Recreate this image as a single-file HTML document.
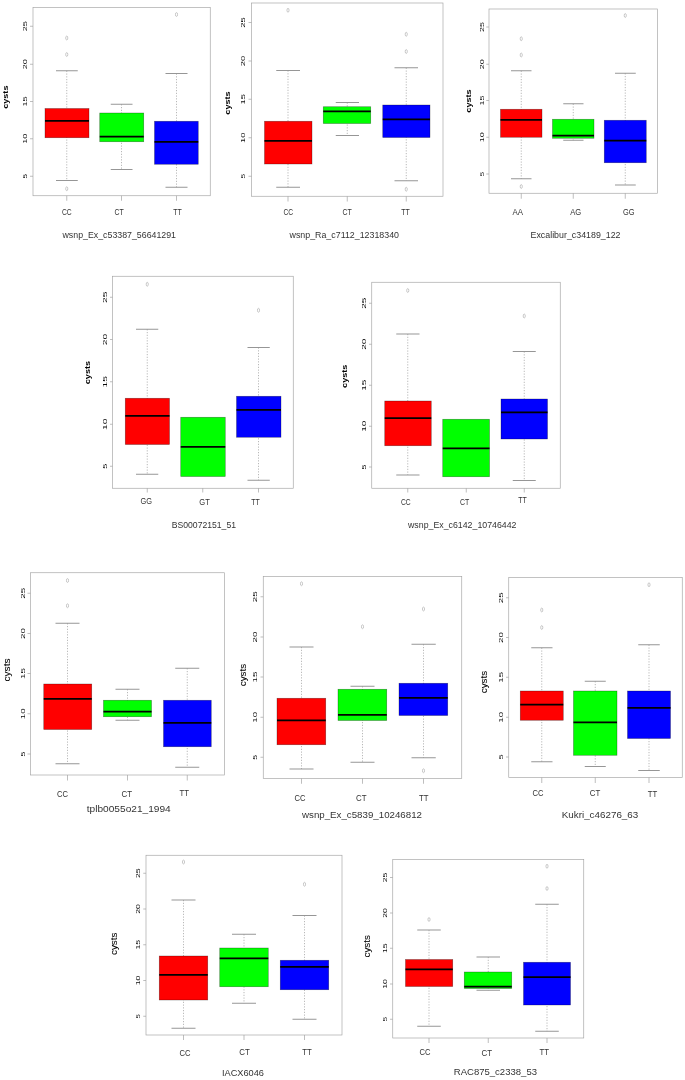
<!DOCTYPE html>
<html lang="en">
<head>
<meta charset="utf-8">
<title>Box plots of cysts by SNP genotype</title>
<style>
html,body{margin:0;padding:0;background:#fff;}
body{width:685px;height:1080px;overflow:hidden;}
svg{display:block;}
text{font-family:"Liberation Sans","DejaVu Sans",sans-serif;fill:#1a1a1a;}
.tk{font-size:4.8px;fill:#0a0a0a;}
.yl{fill:#000;font-weight:bold;}
.yl2{fill:#000;stroke:#000;stroke-width:0.08px;}
.lb{fill:#333;}
.tt{fill:#333;}
</style>
</head>
<body>
<svg width="685" height="1080" viewBox="0 0 685 1080">
<rect width="685" height="1080" fill="#fff"/>
<g>
<rect x="33" y="7.5" width="177.25" height="188.25" fill="none" stroke="#a2a2a2" stroke-width="0.65"/>
<line x1="30" y1="26.25" x2="33" y2="26.25" stroke="#a2a2a2" stroke-width="0.7"/>
<line x1="30" y1="64.25" x2="33" y2="64.25" stroke="#a2a2a2" stroke-width="0.7"/>
<line x1="30" y1="101.5" x2="33" y2="101.5" stroke="#a2a2a2" stroke-width="0.7"/>
<line x1="30" y1="138.75" x2="33" y2="138.75" stroke="#a2a2a2" stroke-width="0.7"/>
<line x1="30" y1="176.25" x2="33" y2="176.25" stroke="#a2a2a2" stroke-width="0.7"/>
<line x1="66.75" y1="70.75" x2="66.75" y2="180.5" stroke="#a6a6a6" stroke-width="0.8" stroke-dasharray="1.2 1.55"/>
<line x1="56" y1="70.75" x2="77.75" y2="70.75" stroke="#909090" stroke-width="0.95"/>
<line x1="56" y1="180.5" x2="77.75" y2="180.5" stroke="#909090" stroke-width="0.95"/>
<rect x="45" y="108.5" width="44" height="29.25" fill="#ff0000" stroke="#000" stroke-opacity="0.45" stroke-width="0.6"/>
<line x1="45" y1="120.75" x2="89" y2="120.75" stroke="#000" stroke-width="1.75"/>
<ellipse cx="66.75" cy="38" rx="1.05" ry="1.95" fill="none" stroke="#949494" stroke-width="0.5"/>
<ellipse cx="66.75" cy="54.5" rx="1.05" ry="1.95" fill="none" stroke="#949494" stroke-width="0.5"/>
<ellipse cx="66.75" cy="188.75" rx="1.05" ry="1.95" fill="none" stroke="#949494" stroke-width="0.5"/>
<line x1="66.75" y1="195.75" x2="66.75" y2="200.75" stroke="#a2a2a2" stroke-width="0.7"/>
<line x1="121.5" y1="104.25" x2="121.5" y2="169.5" stroke="#a6a6a6" stroke-width="0.8" stroke-dasharray="1.2 1.55"/>
<line x1="110.75" y1="104.25" x2="132.5" y2="104.25" stroke="#909090" stroke-width="0.95"/>
<line x1="110.75" y1="169.5" x2="132.5" y2="169.5" stroke="#909090" stroke-width="0.95"/>
<rect x="99.75" y="113" width="44" height="28.75" fill="#00ff00" stroke="#000" stroke-opacity="0.45" stroke-width="0.6"/>
<line x1="99.75" y1="136.5" x2="143.75" y2="136.5" stroke="#000" stroke-width="1.75"/>
<line x1="121.5" y1="195.75" x2="121.5" y2="200.75" stroke="#a2a2a2" stroke-width="0.7"/>
<line x1="176.5" y1="73.5" x2="176.5" y2="187.25" stroke="#a6a6a6" stroke-width="0.8" stroke-dasharray="1.2 1.55"/>
<line x1="165.5" y1="73.5" x2="187.5" y2="73.5" stroke="#909090" stroke-width="0.95"/>
<line x1="165.5" y1="187.25" x2="187.5" y2="187.25" stroke="#909090" stroke-width="0.95"/>
<rect x="154.5" y="121.25" width="43.75" height="43" fill="#0000ff" stroke="#000" stroke-opacity="0.45" stroke-width="0.6"/>
<line x1="154.5" y1="141.75" x2="198.25" y2="141.75" stroke="#000" stroke-width="1.75"/>
<ellipse cx="176.5" cy="14.5" rx="1.05" ry="1.95" fill="none" stroke="#949494" stroke-width="0.5"/>
<line x1="176.5" y1="195.75" x2="176.5" y2="200.75" stroke="#a2a2a2" stroke-width="0.7"/>
</g>
<g>
<rect x="251.5" y="3" width="191.5" height="193.25" fill="none" stroke="#a2a2a2" stroke-width="0.65"/>
<line x1="248.5" y1="22.5" x2="251.5" y2="22.5" stroke="#a2a2a2" stroke-width="0.7"/>
<line x1="248.5" y1="61" x2="251.5" y2="61" stroke="#a2a2a2" stroke-width="0.7"/>
<line x1="248.5" y1="99.25" x2="251.5" y2="99.25" stroke="#a2a2a2" stroke-width="0.7"/>
<line x1="248.5" y1="137.75" x2="251.5" y2="137.75" stroke="#a2a2a2" stroke-width="0.7"/>
<line x1="248.5" y1="176.25" x2="251.5" y2="176.25" stroke="#a2a2a2" stroke-width="0.7"/>
<line x1="288" y1="70.5" x2="288" y2="187.25" stroke="#a6a6a6" stroke-width="0.8" stroke-dasharray="1.2 1.55"/>
<line x1="276.25" y1="70.5" x2="300" y2="70.5" stroke="#909090" stroke-width="0.95"/>
<line x1="276.25" y1="187.25" x2="300" y2="187.25" stroke="#909090" stroke-width="0.95"/>
<rect x="264.5" y="121.25" width="47.5" height="42.75" fill="#ff0000" stroke="#000" stroke-opacity="0.45" stroke-width="0.6"/>
<line x1="264.5" y1="140.75" x2="312" y2="140.75" stroke="#000" stroke-width="1.75"/>
<ellipse cx="288" cy="10.25" rx="1.05" ry="1.95" fill="none" stroke="#949494" stroke-width="0.5"/>
<line x1="288" y1="196.25" x2="288" y2="201.5" stroke="#a2a2a2" stroke-width="0.7"/>
<line x1="347.25" y1="102.5" x2="347.25" y2="135.5" stroke="#a6a6a6" stroke-width="0.8" stroke-dasharray="1.2 1.55"/>
<line x1="335.75" y1="102.5" x2="359" y2="102.5" stroke="#909090" stroke-width="0.95"/>
<line x1="335.75" y1="135.5" x2="359" y2="135.5" stroke="#909090" stroke-width="0.95"/>
<rect x="323.25" y="106.75" width="47.5" height="16.75" fill="#00ff00" stroke="#000" stroke-opacity="0.45" stroke-width="0.6"/>
<line x1="323.25" y1="111.25" x2="370.75" y2="111.25" stroke="#000" stroke-width="1.75"/>
<line x1="347.25" y1="196.25" x2="347.25" y2="201.5" stroke="#a2a2a2" stroke-width="0.7"/>
<line x1="406.25" y1="67.75" x2="406.25" y2="180.75" stroke="#a6a6a6" stroke-width="0.8" stroke-dasharray="1.2 1.55"/>
<line x1="394.5" y1="67.75" x2="418" y2="67.75" stroke="#909090" stroke-width="0.95"/>
<line x1="394.5" y1="180.75" x2="418" y2="180.75" stroke="#909090" stroke-width="0.95"/>
<rect x="382.75" y="105" width="47.25" height="32.5" fill="#0000ff" stroke="#000" stroke-opacity="0.45" stroke-width="0.6"/>
<line x1="382.75" y1="119.25" x2="430" y2="119.25" stroke="#000" stroke-width="1.75"/>
<ellipse cx="406.25" cy="34.25" rx="1.05" ry="1.95" fill="none" stroke="#949494" stroke-width="0.5"/>
<ellipse cx="406.25" cy="51.5" rx="1.05" ry="1.95" fill="none" stroke="#949494" stroke-width="0.5"/>
<ellipse cx="406.25" cy="189.25" rx="1.05" ry="1.95" fill="none" stroke="#949494" stroke-width="0.5"/>
<line x1="406.25" y1="196.25" x2="406.25" y2="201.5" stroke="#a2a2a2" stroke-width="0.7"/>
</g>
<g>
<rect x="489" y="9" width="168.5" height="184.25" fill="none" stroke="#a2a2a2" stroke-width="0.65"/>
<line x1="486.25" y1="27" x2="489" y2="27" stroke="#a2a2a2" stroke-width="0.7"/>
<line x1="486.25" y1="64.25" x2="489" y2="64.25" stroke="#a2a2a2" stroke-width="0.7"/>
<line x1="486.25" y1="100.5" x2="489" y2="100.5" stroke="#a2a2a2" stroke-width="0.7"/>
<line x1="486.25" y1="137.25" x2="489" y2="137.25" stroke="#a2a2a2" stroke-width="0.7"/>
<line x1="486.25" y1="174" x2="489" y2="174" stroke="#a2a2a2" stroke-width="0.7"/>
<line x1="521.25" y1="70.75" x2="521.25" y2="178.75" stroke="#a6a6a6" stroke-width="0.8" stroke-dasharray="1.2 1.55"/>
<line x1="511" y1="70.75" x2="531.5" y2="70.75" stroke="#909090" stroke-width="0.95"/>
<line x1="511" y1="178.75" x2="531.5" y2="178.75" stroke="#909090" stroke-width="0.95"/>
<rect x="500.5" y="109.25" width="41.5" height="28" fill="#ff0000" stroke="#000" stroke-opacity="0.45" stroke-width="0.6"/>
<line x1="500.5" y1="119.75" x2="542" y2="119.75" stroke="#000" stroke-width="1.75"/>
<ellipse cx="521.25" cy="38.75" rx="1.05" ry="1.95" fill="none" stroke="#949494" stroke-width="0.5"/>
<ellipse cx="521.25" cy="55" rx="1.05" ry="1.95" fill="none" stroke="#949494" stroke-width="0.5"/>
<ellipse cx="521.25" cy="186.5" rx="1.05" ry="1.95" fill="none" stroke="#949494" stroke-width="0.5"/>
<line x1="521.25" y1="193.25" x2="521.25" y2="198.75" stroke="#a2a2a2" stroke-width="0.7"/>
<line x1="573.25" y1="103.75" x2="573.25" y2="140.25" stroke="#a6a6a6" stroke-width="0.8" stroke-dasharray="1.2 1.55"/>
<line x1="563.25" y1="103.75" x2="583.5" y2="103.75" stroke="#909090" stroke-width="0.95"/>
<line x1="563.25" y1="140.25" x2="583.5" y2="140.25" stroke="#909090" stroke-width="0.95"/>
<rect x="552.5" y="119.25" width="41.5" height="19" fill="#00ff00" stroke="#000" stroke-opacity="0.45" stroke-width="0.6"/>
<line x1="552.5" y1="135.5" x2="594" y2="135.5" stroke="#000" stroke-width="1.75"/>
<line x1="573.25" y1="193.25" x2="573.25" y2="198.75" stroke="#a2a2a2" stroke-width="0.7"/>
<line x1="625.25" y1="73.25" x2="625.25" y2="185" stroke="#a6a6a6" stroke-width="0.8" stroke-dasharray="1.2 1.55"/>
<line x1="615" y1="73.25" x2="635.75" y2="73.25" stroke="#909090" stroke-width="0.95"/>
<line x1="615" y1="185" x2="635.75" y2="185" stroke="#909090" stroke-width="0.95"/>
<rect x="604.25" y="120.25" width="42" height="42.5" fill="#0000ff" stroke="#000" stroke-opacity="0.45" stroke-width="0.6"/>
<line x1="604.25" y1="140.5" x2="646.25" y2="140.5" stroke="#000" stroke-width="1.75"/>
<ellipse cx="625.25" cy="15.5" rx="1.05" ry="1.95" fill="none" stroke="#949494" stroke-width="0.5"/>
<line x1="625.25" y1="193.25" x2="625.25" y2="198.75" stroke="#a2a2a2" stroke-width="0.7"/>
</g>
<g>
<rect x="112.5" y="276.25" width="180.75" height="212" fill="none" stroke="#a2a2a2" stroke-width="0.65"/>
<line x1="110" y1="297.25" x2="112.5" y2="297.25" stroke="#a2a2a2" stroke-width="0.7"/>
<line x1="110" y1="339.5" x2="112.5" y2="339.5" stroke="#a2a2a2" stroke-width="0.7"/>
<line x1="110" y1="381.75" x2="112.5" y2="381.75" stroke="#a2a2a2" stroke-width="0.7"/>
<line x1="110" y1="424.25" x2="112.5" y2="424.25" stroke="#a2a2a2" stroke-width="0.7"/>
<line x1="110" y1="466.25" x2="112.5" y2="466.25" stroke="#a2a2a2" stroke-width="0.7"/>
<line x1="147.25" y1="329.25" x2="147.25" y2="474.25" stroke="#a6a6a6" stroke-width="0.8" stroke-dasharray="1.2 1.55"/>
<line x1="136" y1="329.25" x2="158.25" y2="329.25" stroke="#909090" stroke-width="0.95"/>
<line x1="136" y1="474.25" x2="158.25" y2="474.25" stroke="#909090" stroke-width="0.95"/>
<rect x="125.25" y="398.25" width="44.25" height="46.25" fill="#ff0000" stroke="#000" stroke-opacity="0.45" stroke-width="0.6"/>
<line x1="125.25" y1="415.75" x2="169.5" y2="415.75" stroke="#000" stroke-width="1.75"/>
<ellipse cx="147.25" cy="284.25" rx="1.05" ry="1.95" fill="none" stroke="#949494" stroke-width="0.5"/>
<line x1="147.25" y1="488.25" x2="147.25" y2="492.5" stroke="#a2a2a2" stroke-width="0.7"/>
<rect x="180.75" y="417.25" width="44.5" height="59.25" fill="#00ff00" stroke="#000" stroke-opacity="0.45" stroke-width="0.6"/>
<line x1="180.75" y1="446.75" x2="225.25" y2="446.75" stroke="#000" stroke-width="1.75"/>
<line x1="202.75" y1="488.25" x2="202.75" y2="492.5" stroke="#a2a2a2" stroke-width="0.7"/>
<line x1="258.5" y1="347.5" x2="258.5" y2="480.25" stroke="#a6a6a6" stroke-width="0.8" stroke-dasharray="1.2 1.55"/>
<line x1="247.5" y1="347.5" x2="269.75" y2="347.5" stroke="#909090" stroke-width="0.95"/>
<line x1="247.5" y1="480.25" x2="269.75" y2="480.25" stroke="#909090" stroke-width="0.95"/>
<rect x="236.5" y="396.25" width="44.5" height="41" fill="#0000ff" stroke="#000" stroke-opacity="0.45" stroke-width="0.6"/>
<line x1="236.5" y1="409.75" x2="281" y2="409.75" stroke="#000" stroke-width="1.75"/>
<ellipse cx="258.5" cy="310.25" rx="1.05" ry="1.95" fill="none" stroke="#949494" stroke-width="0.5"/>
<line x1="258.5" y1="488.25" x2="258.5" y2="492.5" stroke="#a2a2a2" stroke-width="0.7"/>
</g>
<g>
<rect x="371.75" y="282.25" width="188.5" height="206" fill="none" stroke="#a2a2a2" stroke-width="0.65"/>
<line x1="369" y1="303.25" x2="371.75" y2="303.25" stroke="#a2a2a2" stroke-width="0.7"/>
<line x1="369" y1="344.25" x2="371.75" y2="344.25" stroke="#a2a2a2" stroke-width="0.7"/>
<line x1="369" y1="385.25" x2="371.75" y2="385.25" stroke="#a2a2a2" stroke-width="0.7"/>
<line x1="369" y1="426.25" x2="371.75" y2="426.25" stroke="#a2a2a2" stroke-width="0.7"/>
<line x1="369" y1="467" x2="371.75" y2="467" stroke="#a2a2a2" stroke-width="0.7"/>
<line x1="407.75" y1="334" x2="407.75" y2="475" stroke="#a6a6a6" stroke-width="0.8" stroke-dasharray="1.2 1.55"/>
<line x1="396.25" y1="334" x2="419.5" y2="334" stroke="#909090" stroke-width="0.95"/>
<line x1="396.25" y1="475" x2="419.5" y2="475" stroke="#909090" stroke-width="0.95"/>
<rect x="384.75" y="401" width="46.5" height="44.75" fill="#ff0000" stroke="#000" stroke-opacity="0.45" stroke-width="0.6"/>
<line x1="384.75" y1="418" x2="431.25" y2="418" stroke="#000" stroke-width="1.75"/>
<ellipse cx="407.75" cy="290.5" rx="1.05" ry="1.95" fill="none" stroke="#949494" stroke-width="0.5"/>
<line x1="407.75" y1="488.25" x2="407.75" y2="492.5" stroke="#a2a2a2" stroke-width="0.7"/>
<rect x="442.75" y="419.25" width="46.75" height="57.5" fill="#00ff00" stroke="#000" stroke-opacity="0.45" stroke-width="0.6"/>
<line x1="442.75" y1="448.25" x2="489.5" y2="448.25" stroke="#000" stroke-width="1.75"/>
<line x1="466.25" y1="488.25" x2="466.25" y2="492.5" stroke="#a2a2a2" stroke-width="0.7"/>
<line x1="524.25" y1="351.5" x2="524.25" y2="480.5" stroke="#a6a6a6" stroke-width="0.8" stroke-dasharray="1.2 1.55"/>
<line x1="512.75" y1="351.5" x2="535.75" y2="351.5" stroke="#909090" stroke-width="0.95"/>
<line x1="512.75" y1="480.5" x2="535.75" y2="480.5" stroke="#909090" stroke-width="0.95"/>
<rect x="501" y="399" width="46.5" height="40" fill="#0000ff" stroke="#000" stroke-opacity="0.45" stroke-width="0.6"/>
<line x1="501" y1="412.25" x2="547.5" y2="412.25" stroke="#000" stroke-width="1.75"/>
<ellipse cx="524.25" cy="316" rx="1.05" ry="1.95" fill="none" stroke="#949494" stroke-width="0.5"/>
<line x1="524.25" y1="488.25" x2="524.25" y2="492.5" stroke="#a2a2a2" stroke-width="0.7"/>
</g>
<g>
<rect x="30.5" y="572.75" width="194" height="202.25" fill="none" stroke="#a2a2a2" stroke-width="0.65"/>
<line x1="27.5" y1="593.25" x2="30.5" y2="593.25" stroke="#a2a2a2" stroke-width="0.7"/>
<line x1="27.5" y1="633.5" x2="30.5" y2="633.5" stroke="#a2a2a2" stroke-width="0.7"/>
<line x1="27.5" y1="673.5" x2="30.5" y2="673.5" stroke="#a2a2a2" stroke-width="0.7"/>
<line x1="27.5" y1="713.75" x2="30.5" y2="713.75" stroke="#a2a2a2" stroke-width="0.7"/>
<line x1="27.5" y1="754" x2="30.5" y2="754" stroke="#a2a2a2" stroke-width="0.7"/>
<line x1="67.5" y1="623.25" x2="67.5" y2="763.75" stroke="#a6a6a6" stroke-width="0.8" stroke-dasharray="1.2 1.55"/>
<line x1="55.5" y1="623.25" x2="79.5" y2="623.25" stroke="#909090" stroke-width="0.95"/>
<line x1="55.5" y1="763.75" x2="79.5" y2="763.75" stroke="#909090" stroke-width="0.95"/>
<rect x="43.75" y="684" width="48" height="45.5" fill="#ff0000" stroke="#000" stroke-opacity="0.45" stroke-width="0.6"/>
<line x1="43.75" y1="698.75" x2="91.75" y2="698.75" stroke="#000" stroke-width="1.75"/>
<ellipse cx="67.5" cy="580.5" rx="1.05" ry="1.95" fill="none" stroke="#949494" stroke-width="0.5"/>
<ellipse cx="67.5" cy="605.75" rx="1.05" ry="1.95" fill="none" stroke="#949494" stroke-width="0.5"/>
<line x1="67.5" y1="775" x2="67.5" y2="780.5" stroke="#a2a2a2" stroke-width="0.7"/>
<line x1="127.5" y1="689.25" x2="127.5" y2="720.25" stroke="#a6a6a6" stroke-width="0.8" stroke-dasharray="1.2 1.55"/>
<line x1="115.5" y1="689.25" x2="139.5" y2="689.25" stroke="#909090" stroke-width="0.95"/>
<line x1="115.5" y1="720.25" x2="139.5" y2="720.25" stroke="#909090" stroke-width="0.95"/>
<rect x="103.5" y="700.25" width="48" height="16.5" fill="#00ff00" stroke="#000" stroke-opacity="0.45" stroke-width="0.6"/>
<line x1="103.5" y1="711.5" x2="151.5" y2="711.5" stroke="#000" stroke-width="1.75"/>
<line x1="127.5" y1="775" x2="127.5" y2="780.5" stroke="#a2a2a2" stroke-width="0.7"/>
<line x1="187.25" y1="668.25" x2="187.25" y2="767.25" stroke="#a6a6a6" stroke-width="0.8" stroke-dasharray="1.2 1.55"/>
<line x1="175.25" y1="668.25" x2="199.25" y2="668.25" stroke="#909090" stroke-width="0.95"/>
<line x1="175.25" y1="767.25" x2="199.25" y2="767.25" stroke="#909090" stroke-width="0.95"/>
<rect x="163.5" y="700.25" width="47.75" height="46.5" fill="#0000ff" stroke="#000" stroke-opacity="0.45" stroke-width="0.6"/>
<line x1="163.5" y1="722.75" x2="211.25" y2="722.75" stroke="#000" stroke-width="1.75"/>
<line x1="187.25" y1="775" x2="187.25" y2="780.5" stroke="#a2a2a2" stroke-width="0.7"/>
</g>
<g>
<rect x="263.25" y="576.5" width="198.5" height="202" fill="none" stroke="#a2a2a2" stroke-width="0.65"/>
<line x1="260.5" y1="596.75" x2="263.25" y2="596.75" stroke="#a2a2a2" stroke-width="0.7"/>
<line x1="260.5" y1="637" x2="263.25" y2="637" stroke="#a2a2a2" stroke-width="0.7"/>
<line x1="260.5" y1="677" x2="263.25" y2="677" stroke="#a2a2a2" stroke-width="0.7"/>
<line x1="260.5" y1="717.25" x2="263.25" y2="717.25" stroke="#a2a2a2" stroke-width="0.7"/>
<line x1="260.5" y1="757.25" x2="263.25" y2="757.25" stroke="#a2a2a2" stroke-width="0.7"/>
<line x1="301.5" y1="647" x2="301.5" y2="769" stroke="#a6a6a6" stroke-width="0.8" stroke-dasharray="1.2 1.55"/>
<line x1="289.5" y1="647" x2="313.5" y2="647" stroke="#909090" stroke-width="0.95"/>
<line x1="289.5" y1="769" x2="313.5" y2="769" stroke="#909090" stroke-width="0.95"/>
<rect x="277" y="698.25" width="48.75" height="46.5" fill="#ff0000" stroke="#000" stroke-opacity="0.45" stroke-width="0.6"/>
<line x1="277" y1="720.25" x2="325.75" y2="720.25" stroke="#000" stroke-width="1.75"/>
<ellipse cx="301.5" cy="583.75" rx="1.05" ry="1.95" fill="none" stroke="#949494" stroke-width="0.5"/>
<line x1="301.5" y1="778.5" x2="301.5" y2="783.75" stroke="#a2a2a2" stroke-width="0.7"/>
<line x1="362.5" y1="686.25" x2="362.5" y2="762.25" stroke="#a6a6a6" stroke-width="0.8" stroke-dasharray="1.2 1.55"/>
<line x1="350.5" y1="686.25" x2="374.5" y2="686.25" stroke="#909090" stroke-width="0.95"/>
<line x1="350.5" y1="762.25" x2="374.5" y2="762.25" stroke="#909090" stroke-width="0.95"/>
<rect x="338" y="689.25" width="48.75" height="31.25" fill="#00ff00" stroke="#000" stroke-opacity="0.45" stroke-width="0.6"/>
<line x1="338" y1="714.75" x2="386.75" y2="714.75" stroke="#000" stroke-width="1.75"/>
<ellipse cx="362.5" cy="626.75" rx="1.05" ry="1.95" fill="none" stroke="#949494" stroke-width="0.5"/>
<line x1="362.5" y1="778.5" x2="362.5" y2="783.75" stroke="#a2a2a2" stroke-width="0.7"/>
<line x1="423.5" y1="644.25" x2="423.5" y2="757.75" stroke="#a6a6a6" stroke-width="0.8" stroke-dasharray="1.2 1.55"/>
<line x1="411.5" y1="644.25" x2="435.75" y2="644.25" stroke="#909090" stroke-width="0.95"/>
<line x1="411.5" y1="757.75" x2="435.75" y2="757.75" stroke="#909090" stroke-width="0.95"/>
<rect x="399" y="683.25" width="48.75" height="32.25" fill="#0000ff" stroke="#000" stroke-opacity="0.45" stroke-width="0.6"/>
<line x1="399" y1="697.75" x2="447.75" y2="697.75" stroke="#000" stroke-width="1.75"/>
<ellipse cx="423.5" cy="609" rx="1.05" ry="1.95" fill="none" stroke="#949494" stroke-width="0.5"/>
<ellipse cx="423.5" cy="770.75" rx="1.05" ry="1.95" fill="none" stroke="#949494" stroke-width="0.5"/>
<line x1="423.5" y1="778.5" x2="423.5" y2="783.75" stroke="#a2a2a2" stroke-width="0.7"/>
</g>
<g>
<rect x="508.75" y="577.5" width="173.5" height="200" fill="none" stroke="#a2a2a2" stroke-width="0.65"/>
<line x1="506" y1="597.75" x2="508.75" y2="597.75" stroke="#a2a2a2" stroke-width="0.7"/>
<line x1="506" y1="637.5" x2="508.75" y2="637.5" stroke="#a2a2a2" stroke-width="0.7"/>
<line x1="506" y1="677.25" x2="508.75" y2="677.25" stroke="#a2a2a2" stroke-width="0.7"/>
<line x1="506" y1="717.25" x2="508.75" y2="717.25" stroke="#a2a2a2" stroke-width="0.7"/>
<line x1="506" y1="757" x2="508.75" y2="757" stroke="#a2a2a2" stroke-width="0.7"/>
<line x1="541.75" y1="647.75" x2="541.75" y2="761.75" stroke="#a6a6a6" stroke-width="0.8" stroke-dasharray="1.2 1.55"/>
<line x1="531.25" y1="647.75" x2="552.5" y2="647.75" stroke="#909090" stroke-width="0.95"/>
<line x1="531.25" y1="761.75" x2="552.5" y2="761.75" stroke="#909090" stroke-width="0.95"/>
<rect x="520.25" y="691" width="43" height="29.25" fill="#ff0000" stroke="#000" stroke-opacity="0.45" stroke-width="0.6"/>
<line x1="520.25" y1="704.5" x2="563.25" y2="704.5" stroke="#000" stroke-width="1.75"/>
<ellipse cx="541.75" cy="610" rx="1.05" ry="1.95" fill="none" stroke="#949494" stroke-width="0.5"/>
<ellipse cx="541.75" cy="627.5" rx="1.05" ry="1.95" fill="none" stroke="#949494" stroke-width="0.5"/>
<line x1="541.75" y1="777.5" x2="541.75" y2="783" stroke="#a2a2a2" stroke-width="0.7"/>
<line x1="595.25" y1="681.25" x2="595.25" y2="766.5" stroke="#a6a6a6" stroke-width="0.8" stroke-dasharray="1.2 1.55"/>
<line x1="584.75" y1="681.25" x2="605.75" y2="681.25" stroke="#909090" stroke-width="0.95"/>
<line x1="584.75" y1="766.5" x2="605.75" y2="766.5" stroke="#909090" stroke-width="0.95"/>
<rect x="573.5" y="691" width="43.5" height="64.25" fill="#00ff00" stroke="#000" stroke-opacity="0.45" stroke-width="0.6"/>
<line x1="573.5" y1="722.25" x2="617" y2="722.25" stroke="#000" stroke-width="1.75"/>
<line x1="595.25" y1="777.5" x2="595.25" y2="783" stroke="#a2a2a2" stroke-width="0.7"/>
<line x1="649" y1="644.75" x2="649" y2="770.5" stroke="#a6a6a6" stroke-width="0.8" stroke-dasharray="1.2 1.55"/>
<line x1="638.25" y1="644.75" x2="659.75" y2="644.75" stroke="#909090" stroke-width="0.95"/>
<line x1="638.25" y1="770.5" x2="659.75" y2="770.5" stroke="#909090" stroke-width="0.95"/>
<rect x="627.5" y="691" width="43" height="47.5" fill="#0000ff" stroke="#000" stroke-opacity="0.45" stroke-width="0.6"/>
<line x1="627.5" y1="707.75" x2="670.5" y2="707.75" stroke="#000" stroke-width="1.75"/>
<ellipse cx="649" cy="584.75" rx="1.05" ry="1.95" fill="none" stroke="#949494" stroke-width="0.5"/>
<line x1="649" y1="777.5" x2="649" y2="783" stroke="#a2a2a2" stroke-width="0.7"/>
</g>
<g>
<rect x="146" y="855.25" width="196" height="179.75" fill="none" stroke="#a2a2a2" stroke-width="0.65"/>
<line x1="143.25" y1="873.25" x2="146" y2="873.25" stroke="#a2a2a2" stroke-width="0.7"/>
<line x1="143.25" y1="909" x2="146" y2="909" stroke="#a2a2a2" stroke-width="0.7"/>
<line x1="143.25" y1="944.75" x2="146" y2="944.75" stroke="#a2a2a2" stroke-width="0.7"/>
<line x1="143.25" y1="980.5" x2="146" y2="980.5" stroke="#a2a2a2" stroke-width="0.7"/>
<line x1="143.25" y1="1016.25" x2="146" y2="1016.25" stroke="#a2a2a2" stroke-width="0.7"/>
<line x1="183.5" y1="900" x2="183.5" y2="1028.25" stroke="#a6a6a6" stroke-width="0.8" stroke-dasharray="1.2 1.55"/>
<line x1="171.5" y1="900" x2="195.5" y2="900" stroke="#909090" stroke-width="0.95"/>
<line x1="171.5" y1="1028.25" x2="195.5" y2="1028.25" stroke="#909090" stroke-width="0.95"/>
<rect x="159.25" y="956" width="48.5" height="44" fill="#ff0000" stroke="#000" stroke-opacity="0.45" stroke-width="0.6"/>
<line x1="159.25" y1="974.75" x2="207.75" y2="974.75" stroke="#000" stroke-width="1.75"/>
<ellipse cx="183.5" cy="862" rx="1.05" ry="1.95" fill="none" stroke="#949494" stroke-width="0.5"/>
<line x1="183.5" y1="1035" x2="183.5" y2="1040" stroke="#a2a2a2" stroke-width="0.7"/>
<line x1="244" y1="934.25" x2="244" y2="1003.25" stroke="#a6a6a6" stroke-width="0.8" stroke-dasharray="1.2 1.55"/>
<line x1="232" y1="934.25" x2="256" y2="934.25" stroke="#909090" stroke-width="0.95"/>
<line x1="232" y1="1003.25" x2="256" y2="1003.25" stroke="#909090" stroke-width="0.95"/>
<rect x="219.75" y="948" width="48.5" height="38.75" fill="#00ff00" stroke="#000" stroke-opacity="0.45" stroke-width="0.6"/>
<line x1="219.75" y1="958.25" x2="268.25" y2="958.25" stroke="#000" stroke-width="1.75"/>
<line x1="244" y1="1035" x2="244" y2="1040" stroke="#a2a2a2" stroke-width="0.7"/>
<line x1="304.5" y1="915.5" x2="304.5" y2="1019.25" stroke="#a6a6a6" stroke-width="0.8" stroke-dasharray="1.2 1.55"/>
<line x1="292.5" y1="915.5" x2="316.5" y2="915.5" stroke="#909090" stroke-width="0.95"/>
<line x1="292.5" y1="1019.25" x2="316.5" y2="1019.25" stroke="#909090" stroke-width="0.95"/>
<rect x="280.25" y="960.25" width="48.5" height="29.5" fill="#0000ff" stroke="#000" stroke-opacity="0.45" stroke-width="0.6"/>
<line x1="280.25" y1="966.75" x2="328.75" y2="966.75" stroke="#000" stroke-width="1.75"/>
<ellipse cx="304.5" cy="884.25" rx="1.05" ry="1.95" fill="none" stroke="#949494" stroke-width="0.5"/>
<line x1="304.5" y1="1035" x2="304.5" y2="1040" stroke="#a2a2a2" stroke-width="0.7"/>
</g>
<g>
<rect x="392.75" y="859.5" width="191" height="178.5" fill="none" stroke="#a2a2a2" stroke-width="0.65"/>
<line x1="390" y1="877.5" x2="392.75" y2="877.5" stroke="#a2a2a2" stroke-width="0.7"/>
<line x1="390" y1="913" x2="392.75" y2="913" stroke="#a2a2a2" stroke-width="0.7"/>
<line x1="390" y1="948.25" x2="392.75" y2="948.25" stroke="#a2a2a2" stroke-width="0.7"/>
<line x1="390" y1="984" x2="392.75" y2="984" stroke="#a2a2a2" stroke-width="0.7"/>
<line x1="390" y1="1019.25" x2="392.75" y2="1019.25" stroke="#a2a2a2" stroke-width="0.7"/>
<line x1="429" y1="930" x2="429" y2="1026.25" stroke="#a6a6a6" stroke-width="0.8" stroke-dasharray="1.2 1.55"/>
<line x1="417.25" y1="930" x2="440.75" y2="930" stroke="#909090" stroke-width="0.95"/>
<line x1="417.25" y1="1026.25" x2="440.75" y2="1026.25" stroke="#909090" stroke-width="0.95"/>
<rect x="405.5" y="959.5" width="47.25" height="27" fill="#ff0000" stroke="#000" stroke-opacity="0.45" stroke-width="0.6"/>
<line x1="405.5" y1="969.25" x2="452.75" y2="969.25" stroke="#000" stroke-width="1.75"/>
<ellipse cx="429" cy="919.5" rx="1.05" ry="1.95" fill="none" stroke="#949494" stroke-width="0.5"/>
<line x1="429" y1="1038" x2="429" y2="1043" stroke="#a2a2a2" stroke-width="0.7"/>
<line x1="488.25" y1="957" x2="488.25" y2="990.25" stroke="#a6a6a6" stroke-width="0.8" stroke-dasharray="1.2 1.55"/>
<line x1="476.5" y1="957" x2="500" y2="957" stroke="#909090" stroke-width="0.95"/>
<line x1="476.5" y1="990.25" x2="500" y2="990.25" stroke="#909090" stroke-width="0.95"/>
<rect x="464.25" y="972" width="47.5" height="16.5" fill="#00ff00" stroke="#000" stroke-opacity="0.45" stroke-width="0.6"/>
<line x1="464.25" y1="986.5" x2="511.75" y2="986.5" stroke="#000" stroke-width="1.75"/>
<line x1="488.25" y1="1038" x2="488.25" y2="1043" stroke="#a2a2a2" stroke-width="0.7"/>
<line x1="547" y1="904.25" x2="547" y2="1031.25" stroke="#a6a6a6" stroke-width="0.8" stroke-dasharray="1.2 1.55"/>
<line x1="535.25" y1="904.25" x2="558.75" y2="904.25" stroke="#909090" stroke-width="0.95"/>
<line x1="535.25" y1="1031.25" x2="558.75" y2="1031.25" stroke="#909090" stroke-width="0.95"/>
<rect x="523.5" y="962.25" width="47" height="42.75" fill="#0000ff" stroke="#000" stroke-opacity="0.45" stroke-width="0.6"/>
<line x1="523.5" y1="977" x2="570.5" y2="977" stroke="#000" stroke-width="1.75"/>
<ellipse cx="547" cy="866.25" rx="1.05" ry="1.95" fill="none" stroke="#949494" stroke-width="0.5"/>
<ellipse cx="547" cy="888.5" rx="1.05" ry="1.95" fill="none" stroke="#949494" stroke-width="0.5"/>
<line x1="547" y1="1038" x2="547" y2="1043" stroke="#a2a2a2" stroke-width="0.7"/>
</g>
<g style="filter:grayscale(1)">
<text class="tk" font-size="5.05" transform="translate(27.1,26.25) rotate(-90)" x="-5.1" y="0" textLength="10.2" lengthAdjust="spacingAndGlyphs">25</text>
<text class="tk" font-size="5.05" transform="translate(27.1,64.25) rotate(-90)" x="-5.1" y="0" textLength="10.2" lengthAdjust="spacingAndGlyphs">20</text>
<text class="tk" font-size="5.05" transform="translate(27.1,101.5) rotate(-90)" x="-5.1" y="0" textLength="10.2" lengthAdjust="spacingAndGlyphs">15</text>
<text class="tk" font-size="5.05" transform="translate(27.1,138.75) rotate(-90)" x="-5.1" y="0" textLength="10.2" lengthAdjust="spacingAndGlyphs">10</text>
<text class="tk" font-size="5.05" transform="translate(27.1,176.25) rotate(-90)" x="-2.25" y="0" textLength="4.5" lengthAdjust="spacingAndGlyphs">5</text>
<text class="yl" font-size="6.8" transform="translate(8.25,97.2) rotate(-90)" x="-11.65" y="0" textLength="23.3" lengthAdjust="spacingAndGlyphs">cysts</text>
<text class="lb" font-size="9.4" x="61.88" y="215" textLength="9.75" lengthAdjust="spacingAndGlyphs">CC</text>
<text class="lb" font-size="9.4" x="114.38" y="215" textLength="9.25" lengthAdjust="spacingAndGlyphs">CT</text>
<text class="lb" font-size="9.4" x="173.25" y="215" textLength="8.5" lengthAdjust="spacingAndGlyphs">TT</text>
<text class="tt" font-size="9.4" x="62.5" y="237.5" textLength="113.5" lengthAdjust="spacingAndGlyphs">wsnp_Ex_c53387_56641291</text>
<text class="tk" font-size="5.45" transform="translate(245.1,22.5) rotate(-90)" x="-5.23" y="0" textLength="10.46" lengthAdjust="spacingAndGlyphs">25</text>
<text class="tk" font-size="5.45" transform="translate(245.1,61) rotate(-90)" x="-5.23" y="0" textLength="10.46" lengthAdjust="spacingAndGlyphs">20</text>
<text class="tk" font-size="5.45" transform="translate(245.1,99.25) rotate(-90)" x="-5.23" y="0" textLength="10.46" lengthAdjust="spacingAndGlyphs">15</text>
<text class="tk" font-size="5.45" transform="translate(245.1,137.75) rotate(-90)" x="-5.23" y="0" textLength="10.46" lengthAdjust="spacingAndGlyphs">10</text>
<text class="tk" font-size="5.45" transform="translate(245.1,176.25) rotate(-90)" x="-2.31" y="0" textLength="4.61" lengthAdjust="spacingAndGlyphs">5</text>
<text class="yl" font-size="6.8" transform="translate(229.5,103) rotate(-90)" x="-11.65" y="0" textLength="23.3" lengthAdjust="spacingAndGlyphs">cysts</text>
<text class="lb" font-size="9.4" x="283.38" y="215" textLength="9.75" lengthAdjust="spacingAndGlyphs">CC</text>
<text class="lb" font-size="9.4" x="342.62" y="215" textLength="9.25" lengthAdjust="spacingAndGlyphs">CT</text>
<text class="lb" font-size="9.4" x="401.25" y="215" textLength="8.5" lengthAdjust="spacingAndGlyphs">TT</text>
<text class="tt" font-size="9.4" x="289.5" y="237.5" textLength="109.5" lengthAdjust="spacingAndGlyphs">wsnp_Ra_c7112_12318340</text>
<text class="tk" font-size="4.79" transform="translate(483.85,27) rotate(-90)" x="-5" y="0" textLength="10" lengthAdjust="spacingAndGlyphs">25</text>
<text class="tk" font-size="4.79" transform="translate(483.85,64.25) rotate(-90)" x="-5" y="0" textLength="10" lengthAdjust="spacingAndGlyphs">20</text>
<text class="tk" font-size="4.79" transform="translate(483.85,100.5) rotate(-90)" x="-5" y="0" textLength="10" lengthAdjust="spacingAndGlyphs">15</text>
<text class="tk" font-size="4.79" transform="translate(483.85,137.25) rotate(-90)" x="-5" y="0" textLength="10" lengthAdjust="spacingAndGlyphs">10</text>
<text class="tk" font-size="4.79" transform="translate(483.85,174) rotate(-90)" x="-2.2" y="0" textLength="4.41" lengthAdjust="spacingAndGlyphs">5</text>
<text class="yl" font-size="6.8" transform="translate(470.5,101) rotate(-90)" x="-11.65" y="0" textLength="23.3" lengthAdjust="spacingAndGlyphs">cysts</text>
<text class="lb" font-size="9.4" x="512.5" y="215" textLength="10.5" lengthAdjust="spacingAndGlyphs">AA</text>
<text class="lb" font-size="9.4" x="570.25" y="215" textLength="11" lengthAdjust="spacingAndGlyphs">AG</text>
<text class="lb" font-size="9.4" x="623" y="215" textLength="11.5" lengthAdjust="spacingAndGlyphs">GG</text>
<text class="tt" font-size="9.4" x="530.5" y="237.5" textLength="90" lengthAdjust="spacingAndGlyphs">Excalibur_c34189_122</text>
<text class="tk" font-size="5.11" transform="translate(107.1,297.25) rotate(-90)" x="-5.75" y="0" textLength="11.49" lengthAdjust="spacingAndGlyphs">25</text>
<text class="tk" font-size="5.11" transform="translate(107.1,339.5) rotate(-90)" x="-5.75" y="0" textLength="11.49" lengthAdjust="spacingAndGlyphs">20</text>
<text class="tk" font-size="5.11" transform="translate(107.1,381.75) rotate(-90)" x="-5.75" y="0" textLength="11.49" lengthAdjust="spacingAndGlyphs">15</text>
<text class="tk" font-size="5.11" transform="translate(107.1,424.25) rotate(-90)" x="-5.75" y="0" textLength="11.49" lengthAdjust="spacingAndGlyphs">10</text>
<text class="tk" font-size="5.11" transform="translate(107.1,466.25) rotate(-90)" x="-2.53" y="0" textLength="5.07" lengthAdjust="spacingAndGlyphs">5</text>
<text class="yl" font-size="6.8" transform="translate(90.4,372.6) rotate(-90)" x="-11.65" y="0" textLength="23.3" lengthAdjust="spacingAndGlyphs">cysts</text>
<text class="lb" font-size="9.4" x="140.5" y="503.75" textLength="11.5" lengthAdjust="spacingAndGlyphs">GG</text>
<text class="lb" font-size="9.4" x="199.25" y="505" textLength="10.5" lengthAdjust="spacingAndGlyphs">GT</text>
<text class="lb" font-size="9.4" x="251.25" y="505" textLength="8.5" lengthAdjust="spacingAndGlyphs">TT</text>
<text class="tt" font-size="9.4" x="171.75" y="527.5" textLength="64.25" lengthAdjust="spacingAndGlyphs">BS00072151_51</text>
<text class="tk" font-size="5.36" transform="translate(366.1,303.25) rotate(-90)" x="-5.57" y="0" textLength="11.14" lengthAdjust="spacingAndGlyphs">25</text>
<text class="tk" font-size="5.36" transform="translate(366.1,344.25) rotate(-90)" x="-5.57" y="0" textLength="11.14" lengthAdjust="spacingAndGlyphs">20</text>
<text class="tk" font-size="5.36" transform="translate(366.1,385.25) rotate(-90)" x="-5.57" y="0" textLength="11.14" lengthAdjust="spacingAndGlyphs">15</text>
<text class="tk" font-size="5.36" transform="translate(366.1,426.25) rotate(-90)" x="-5.57" y="0" textLength="11.14" lengthAdjust="spacingAndGlyphs">10</text>
<text class="tk" font-size="5.36" transform="translate(366.1,467) rotate(-90)" x="-2.46" y="0" textLength="4.91" lengthAdjust="spacingAndGlyphs">5</text>
<text class="yl" font-size="6.8" transform="translate(347.25,376.25) rotate(-90)" x="-11.65" y="0" textLength="23.3" lengthAdjust="spacingAndGlyphs">cysts</text>
<text class="lb" font-size="9.4" x="400.88" y="505" textLength="9.75" lengthAdjust="spacingAndGlyphs">CC</text>
<text class="lb" font-size="9.4" x="460.12" y="505" textLength="9.25" lengthAdjust="spacingAndGlyphs">CT</text>
<text class="lb" font-size="9.4" x="518.25" y="503" textLength="8.5" lengthAdjust="spacingAndGlyphs">TT</text>
<text class="tt" font-size="9.4" x="408" y="527.5" textLength="108.5" lengthAdjust="spacingAndGlyphs">wsnp_Ex_c6142_10746442</text>
<text class="tk" font-size="5.51" transform="translate(24.6,593.25) rotate(-90)" x="-5.47" y="0" textLength="10.93" lengthAdjust="spacingAndGlyphs">25</text>
<text class="tk" font-size="5.51" transform="translate(24.6,633.5) rotate(-90)" x="-5.47" y="0" textLength="10.93" lengthAdjust="spacingAndGlyphs">20</text>
<text class="tk" font-size="5.51" transform="translate(24.6,673.5) rotate(-90)" x="-5.47" y="0" textLength="10.93" lengthAdjust="spacingAndGlyphs">15</text>
<text class="tk" font-size="5.51" transform="translate(24.6,713.75) rotate(-90)" x="-5.47" y="0" textLength="10.93" lengthAdjust="spacingAndGlyphs">10</text>
<text class="tk" font-size="5.51" transform="translate(24.6,754) rotate(-90)" x="-2.41" y="0" textLength="4.82" lengthAdjust="spacingAndGlyphs">5</text>
<text class="yl2" font-size="9.6" transform="translate(10.11,670) rotate(-90)" x="-11.5" y="0" textLength="23" lengthAdjust="spacingAndGlyphs">cysts</text>
<text class="lb" font-size="9.3" x="57" y="796.75" textLength="11" lengthAdjust="spacingAndGlyphs">CC</text>
<text class="lb" font-size="9.3" x="121.5" y="797.25" textLength="10.5" lengthAdjust="spacingAndGlyphs">CT</text>
<text class="lb" font-size="9.3" x="179.5" y="796.25" textLength="9.5" lengthAdjust="spacingAndGlyphs">TT</text>
<text class="tt" font-size="9.2" x="86.75" y="811.75" textLength="84" lengthAdjust="spacingAndGlyphs">tplb0055o21_1994</text>
<text class="tk" font-size="5.61" transform="translate(257.35,596.75) rotate(-90)" x="-5.46" y="0" textLength="10.91" lengthAdjust="spacingAndGlyphs">25</text>
<text class="tk" font-size="5.61" transform="translate(257.35,637) rotate(-90)" x="-5.46" y="0" textLength="10.91" lengthAdjust="spacingAndGlyphs">20</text>
<text class="tk" font-size="5.61" transform="translate(257.35,677) rotate(-90)" x="-5.46" y="0" textLength="10.91" lengthAdjust="spacingAndGlyphs">15</text>
<text class="tk" font-size="5.61" transform="translate(257.35,717.25) rotate(-90)" x="-5.46" y="0" textLength="10.91" lengthAdjust="spacingAndGlyphs">10</text>
<text class="tk" font-size="5.61" transform="translate(257.35,757.25) rotate(-90)" x="-2.41" y="0" textLength="4.82" lengthAdjust="spacingAndGlyphs">5</text>
<text class="yl2" font-size="9.6" transform="translate(246.11,675) rotate(-90)" x="-11.25" y="0" textLength="22.5" lengthAdjust="spacingAndGlyphs">cysts</text>
<text class="lb" font-size="9.3" x="294.5" y="800.5" textLength="11" lengthAdjust="spacingAndGlyphs">CC</text>
<text class="lb" font-size="9.3" x="356" y="800.5" textLength="10.5" lengthAdjust="spacingAndGlyphs">CT</text>
<text class="lb" font-size="9.3" x="419" y="800.5" textLength="9.5" lengthAdjust="spacingAndGlyphs">TT</text>
<text class="tt" font-size="9.2" x="302" y="818.25" textLength="120" lengthAdjust="spacingAndGlyphs">wsnp_Ex_c5839_10246812</text>
<text class="tk" font-size="4.96" transform="translate(502.85,597.75) rotate(-90)" x="-5.41" y="0" textLength="10.83" lengthAdjust="spacingAndGlyphs">25</text>
<text class="tk" font-size="4.96" transform="translate(502.85,637.5) rotate(-90)" x="-5.41" y="0" textLength="10.83" lengthAdjust="spacingAndGlyphs">20</text>
<text class="tk" font-size="4.96" transform="translate(502.85,677.25) rotate(-90)" x="-5.41" y="0" textLength="10.83" lengthAdjust="spacingAndGlyphs">15</text>
<text class="tk" font-size="4.96" transform="translate(502.85,717.25) rotate(-90)" x="-5.41" y="0" textLength="10.83" lengthAdjust="spacingAndGlyphs">10</text>
<text class="tk" font-size="4.96" transform="translate(502.85,757) rotate(-90)" x="-2.39" y="0" textLength="4.78" lengthAdjust="spacingAndGlyphs">5</text>
<text class="yl2" font-size="9.6" transform="translate(486.61,682) rotate(-90)" x="-11.25" y="0" textLength="22.5" lengthAdjust="spacingAndGlyphs">cysts</text>
<text class="lb" font-size="9.3" x="532.5" y="796.25" textLength="11" lengthAdjust="spacingAndGlyphs">CC</text>
<text class="lb" font-size="9.3" x="589.75" y="796.25" textLength="10.5" lengthAdjust="spacingAndGlyphs">CT</text>
<text class="lb" font-size="9.3" x="647.75" y="796.75" textLength="9.5" lengthAdjust="spacingAndGlyphs">TT</text>
<text class="tt" font-size="9.2" x="561.75" y="818.25" textLength="76.5" lengthAdjust="spacingAndGlyphs">Kukri_c46276_63</text>
<text class="tk" font-size="5.58" transform="translate(139.6,873.25) rotate(-90)" x="-4.86" y="0" textLength="9.72" lengthAdjust="spacingAndGlyphs">25</text>
<text class="tk" font-size="5.58" transform="translate(139.6,909) rotate(-90)" x="-4.86" y="0" textLength="9.72" lengthAdjust="spacingAndGlyphs">20</text>
<text class="tk" font-size="5.58" transform="translate(139.6,944.75) rotate(-90)" x="-4.86" y="0" textLength="9.72" lengthAdjust="spacingAndGlyphs">15</text>
<text class="tk" font-size="5.58" transform="translate(139.6,980.5) rotate(-90)" x="-4.86" y="0" textLength="9.72" lengthAdjust="spacingAndGlyphs">10</text>
<text class="tk" font-size="5.58" transform="translate(139.6,1016.25) rotate(-90)" x="-2.15" y="0" textLength="4.29" lengthAdjust="spacingAndGlyphs">5</text>
<text class="yl2" font-size="9.6" transform="translate(117.11,943.75) rotate(-90)" x="-11.25" y="0" textLength="22.5" lengthAdjust="spacingAndGlyphs">cysts</text>
<text class="lb" font-size="9.3" x="179.5" y="1056.25" textLength="11" lengthAdjust="spacingAndGlyphs">CC</text>
<text class="lb" font-size="9.3" x="239.25" y="1055" textLength="10.5" lengthAdjust="spacingAndGlyphs">CT</text>
<text class="lb" font-size="9.3" x="302.25" y="1055" textLength="9.5" lengthAdjust="spacingAndGlyphs">TT</text>
<text class="tt" font-size="9.2" x="222" y="1076.25" textLength="42" lengthAdjust="spacingAndGlyphs">IACX6046</text>
<text class="tk" font-size="5.43" transform="translate(386.6,877.5) rotate(-90)" x="-4.82" y="0" textLength="9.64" lengthAdjust="spacingAndGlyphs">25</text>
<text class="tk" font-size="5.43" transform="translate(386.6,913) rotate(-90)" x="-4.82" y="0" textLength="9.64" lengthAdjust="spacingAndGlyphs">20</text>
<text class="tk" font-size="5.43" transform="translate(386.6,948.25) rotate(-90)" x="-4.82" y="0" textLength="9.64" lengthAdjust="spacingAndGlyphs">15</text>
<text class="tk" font-size="5.43" transform="translate(386.6,984) rotate(-90)" x="-4.82" y="0" textLength="9.64" lengthAdjust="spacingAndGlyphs">10</text>
<text class="tk" font-size="5.43" transform="translate(386.6,1019.25) rotate(-90)" x="-2.13" y="0" textLength="4.25" lengthAdjust="spacingAndGlyphs">5</text>
<text class="yl2" font-size="9.6" transform="translate(369.61,946.25) rotate(-90)" x="-11.25" y="0" textLength="22.5" lengthAdjust="spacingAndGlyphs">cysts</text>
<text class="lb" font-size="9.3" x="419.5" y="1055" textLength="11" lengthAdjust="spacingAndGlyphs">CC</text>
<text class="lb" font-size="9.3" x="481.5" y="1056.25" textLength="10.5" lengthAdjust="spacingAndGlyphs">CT</text>
<text class="lb" font-size="9.3" x="539.5" y="1055" textLength="9.5" lengthAdjust="spacingAndGlyphs">TT</text>
<text class="tt" font-size="9.2" x="453.75" y="1075" textLength="83.25" lengthAdjust="spacingAndGlyphs">RAC875_c2338_53</text>
</g>
</svg>
</body>
</html>
